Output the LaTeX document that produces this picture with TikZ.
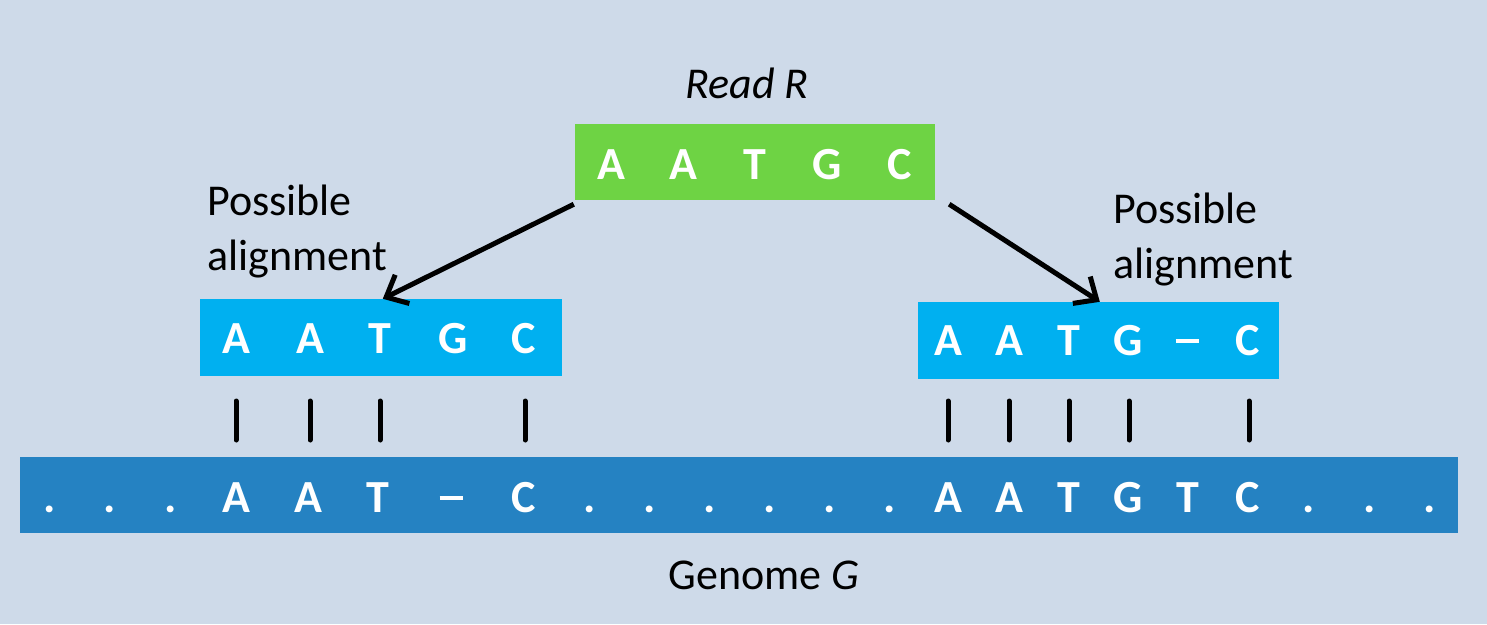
\documentclass[tikz,border=0pt]{standalone}
\usepackage{fontspec}
\setmainfont{Carlito}
\usetikzlibrary{arrows.meta}
\definecolor{bgc}{RGB}{206,218,233}
\definecolor{readgreen}{RGB}{110,211,68}
\definecolor{alnblue}{RGB}{0,176,240}
\definecolor{genblue}{RGB}{37,130,194}
\newcommand{\gapdash}{\rule[12pt]{23pt}{4pt}}
\tikzset{
  box/.style={rectangle, inner sep=0pt, draw=none},
  lt/.style={anchor=base, inner sep=0pt, text=white, font=\fontsize{46}{55}\selectfont\bfseries},
  lbl/.style={inner sep=0pt, text=black, font=\fontsize{44}{54}\selectfont},
  arr/.style={line width=5pt, -{Straight Barb[length=18pt,width=32pt]}},
  bar/.style={line width=5pt, line cap=round},
}
\begin{document}
\begin{tikzpicture}[x=1pt,y=-1pt]
\fill[bgc] (0,0) rectangle (1487,624);
\useasboundingbox (0,0) rectangle (1487,624);

% boxes
\node[box, fill=readgreen, minimum width=360pt, minimum height=76pt] (read) at (755,162) {};
\node[box, fill=alnblue, minimum width=362pt, minimum height=77pt] (alnL) at (381,337.5) {};
\node[box, fill=alnblue, minimum width=361pt, minimum height=77pt] (alnR) at (1098.5,340.5) {};
\node[box, fill=genblue, minimum width=1438pt, minimum height=76pt] (gen) at (739,495) {};

% read letters
\foreach \x/\c [count=\i] in {611/A,683/A,755/T,827/G,900/C}
  \node[lt] (r\i) at (\x,179) {\c};
% left alignment letters
\foreach \x/\c [count=\i] in {236/A,310/A,380/T,453/G,524/C}
  \node[lt] (l\i) at (\x,353) {\c};
% right alignment letters
\foreach \x/\c [count=\i] in {948/A,1009/A,1069/T,1128/G,1187/\gapdash,1248/C}
  \node[lt] (q\i) at (\x,355) {\c};
% genome letters
\foreach \x/\c [count=\i] in {50/.,110/.,171/.,236/A,308/A,378/T,451/\gapdash,524/C,590/.,650/.,710/.,770/.,830/.,890/.,948/A,1009/A,1069/T,1128/G,1188/T,1248/C,1309/.,1370/.,1430/.}
  \node[lt] (g\i) at (\x,512) {\c};

% labels
\node[lbl, anchor=base] (readlbl) at (747,98) {\itshape Read R};
\node[lbl, anchor=base west] (pl1) at (207,215) {Possible};
\node[lbl, anchor=base west] (pl2) at (207,270) {alignment};
\node[lbl, anchor=base west] (pr1) at (1113,223) {Possible};
\node[lbl, anchor=base west] (pr2) at (1113,278) {alignment};
\node[lbl, anchor=base] (genlbl) at (764,589) {Genome \textit{G}};

% arrows
\path (read.south west) ++(-1,4) coordinate (a1s);
\path (alnL.north west) ++(183,0) coordinate (a1e);
\path (read.south east) ++(14,4) coordinate (a2s);
\path (alnR.north west) ++(182,0) coordinate (a2e);
\draw[arr] (a1s) -- (a1e);
\draw[arr] (a2s) -- (a2e);

% match bars
\foreach \x in {236,310,380,525,948,1009,1069,1129,1249}
  \draw[bar] (\x,401) -- (\x,440);
\end{tikzpicture}
\end{document}
